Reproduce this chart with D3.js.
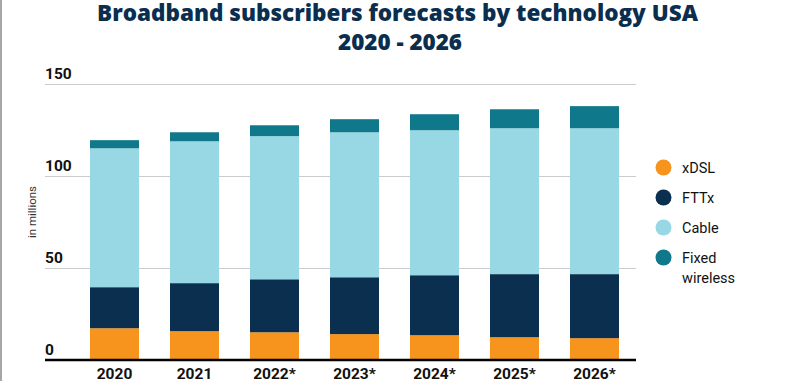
<!DOCTYPE html>
<html><head><meta charset="utf-8">
<script src="https://cdn.jsdelivr.net/npm/d3@7/dist/d3.min.js"></script>
<style>
html,body{margin:0;padding:0;background:#fff;}
svg{display:block;}
</style></head>
<body>
<script>
const categories = ["2020","2021","2022*","2023*","2024*","2025*","2026*"];
const seriesNames = ["xDSL","FTTx","Cable","Fixed wireless"];
const xDSL = [17.0,15.4,14.8,13.8,13.2,12.1,11.6];
const FTTx = [22.3,26.1,28.8,30.9,32.6,34.3,34.8];
const Cable = [75.5,77.1,77.8,78.8,78.8,79.3,79.3];
const FixedWireless = [4.4,4.9,5.9,7.1,8.7,10.3,12.0];
const yTicks = [0,50,100,150];
const colors = ["#f7941d","#0a2f4f","#97d8e4","#0f788a"];

const W=795,H=381;
const svg=d3.select("body").append("svg").attr("width",W).attr("height",H);

svg.append("rect").attr("x",0).attr("y",0).attr("width",2).attr("height",H).attr("fill","#a6a6a6");

const rows = categories.map((c,i)=>({cat:c, "xDSL":xDSL[i], "FTTx":FTTx[i], "Cable":Cable[i], "Fixed wireless":FixedWireless[i]}));
const stack = d3.stack().keys(seriesNames)(rows);

const y = d3.scaleLinear().domain([0,150]).range([359.5,83.5]);
const x = d3.scaleBand().domain(categories).range([74.5,634.5]).paddingInner(0.3875).paddingOuter(0.19375);

// gridlines
svg.append("g").selectAll("line").data(yTicks.filter(d=>d>0)).join("line")
  .attr("x1",45).attr("x2",636).attr("y1",d=>Math.round(y(d))+0.5).attr("y2",d=>Math.round(y(d))+0.5)
  .attr("stroke","#cccccc").attr("stroke-width",1);

// y tick labels
svg.append("g").selectAll("text").data(yTicks).join("text")
  .attr("x",45).attr("y",d=>y(d)-4.5)
  .attr("font-family","Roboto").attr("font-weight","700").attr("font-size","15.5px").attr("fill","#111")
  .text(d=>d);

// bars
svg.append("g").selectAll("g").data(stack).join("g").attr("fill",(d,i)=>colors[i])
  .selectAll("rect").data(d=>d).join("rect")
  .attr("x",d=>x(d.data.cat)).attr("width",x.bandwidth())
  .attr("y",d=>y(d[1])).attr("height",d=>y(d[0])-y(d[1]));

// baseline
svg.append("line").attr("x1",45).attr("x2",636).attr("y1",360).attr("y2",360).attr("stroke","#000").attr("stroke-width",2.5);

// x labels
const xAxis = d3.axisBottom(x).tickSize(0).tickPadding(0);
const gx = svg.append("g").call(xAxis);
gx.select(".domain").remove();
gx.selectAll("text").attr("y",378.5).attr("dy",null)
  .attr("font-family","Roboto").attr("font-weight","700").attr("font-size","15.5px").attr("fill","#111");

// y axis title
svg.append("text").attr("transform","translate(36,212) rotate(-90)").attr("text-anchor","middle")
  .attr("font-family","Roboto").attr("font-size","11.5px").attr("fill","#333").text("in millions");

// title
const t = svg.append("g").attr("font-family","Open Sans").attr("font-weight","800").attr("fill","#0b2e4f").attr("text-anchor","middle");
t.append("text").attr("x",397.5).attr("y",20.7).attr("font-size","23px").attr("textLength",601).attr("lengthAdjust","spacingAndGlyphs").text("Broadband subscribers forecasts by technology USA");
t.append("text").attr("x",400).attr("y",50).attr("font-size","23px").attr("textLength",124).attr("lengthAdjust","spacingAndGlyphs").text("2020 - 2026");

// legend
const lg = svg.append("g").selectAll("g").data(seriesNames).join("g")
  .attr("transform",(d,i)=>`translate(663.5,${167.5+i*30})`);
lg.append("circle").attr("r",8).attr("fill",(d,i)=>colors[i]);
lg.append("text").attr("x",18.5).attr("y",5).attr("font-family","Roboto").attr("font-size","14.5px").attr("fill","#111")
  .each(function(d){
    const words = d.split(" ");
    const el = d3.select(this);
    words.forEach((w,j)=>el.append("tspan").attr("x",18.5).attr("dy",j?20:0).text(w));
  });
</script>
</body></html>
